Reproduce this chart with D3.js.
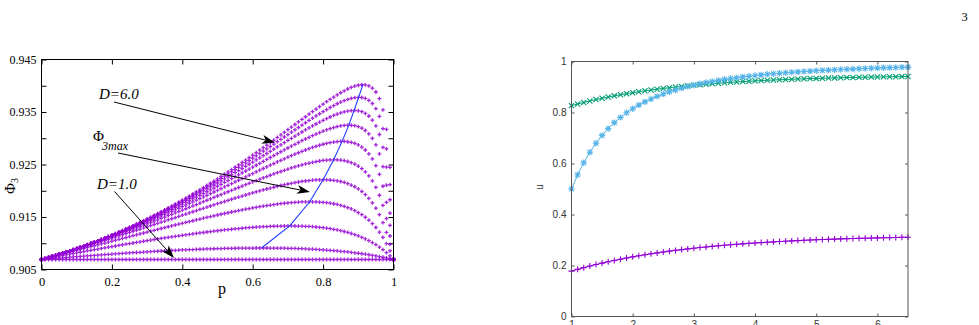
<!DOCTYPE html>
<html><head><meta charset="utf-8">
<script src="https://cdn.jsdelivr.net/npm/d3@7"></script>
<style>body{margin:0;background:#fff}svg{display:block}</style>
</head><body>
<svg id="c" width="979" height="325"></svg>
<script>
// ---------- Left chart data: Phi_3 vs p for D = 1.0 ... 6.0 (step 0.5) ----------
const pValues = [0,0.01,0.02,0.03,0.04,0.05,0.06,0.07,0.08,0.09,0.1,0.11,0.12,0.13,0.14,0.15,0.16,0.17,0.18,0.19,0.2,0.21,0.22,0.23,0.24,0.25,0.26,0.27,0.28,0.29,0.3,0.31,0.32,0.33,0.34,0.35,0.36,0.37,0.38,0.39,0.4,0.41,0.42,0.43,0.44,0.45,0.46,0.47,0.48,0.49,0.5,0.51,0.52,0.53,0.54,0.55,0.56,0.57,0.58,0.59,0.6,0.61,0.62,0.63,0.64,0.65,0.66,0.67,0.68,0.69,0.7,0.71,0.72,0.73,0.74,0.75,0.76,0.77,0.78,0.79,0.8,0.81,0.82,0.83,0.84,0.85,0.86,0.87,0.88,0.89,0.9,0.91,0.92,0.93,0.94,0.95,0.96,0.97,0.98,0.99,1];
const phiD10 = [0.9069,0.9069,0.9069,0.9069,0.9069,0.9069,0.9069,0.9069,0.9069,0.9069,0.9069,0.9069,0.9069,0.9069,0.9069,0.9069,0.9069,0.9069,0.9069,0.9069,0.9069,0.9069,0.9069,0.9069,0.9069,0.9069,0.9069,0.9069,0.9069,0.9069,0.9069,0.9069,0.9069,0.9069,0.9069,0.9069,0.9069,0.9069,0.9069,0.9069,0.9069,0.9069,0.9069,0.9069,0.9069,0.9069,0.9069,0.9069,0.9069,0.9069,0.9069,0.9069,0.9069,0.9069,0.9069,0.9069,0.9069,0.9069,0.9069,0.9069,0.9069,0.9069,0.9069,0.9069,0.9069,0.9069,0.9069,0.9069,0.9069,0.9069,0.9069,0.9069,0.9069,0.9069,0.9069,0.9069,0.9069,0.9069,0.9069,0.9069,0.9069,0.9069,0.9069,0.9069,0.9069,0.9069,0.9069,0.9069,0.9069,0.9069,0.9069,0.9069,0.9069,0.9069,0.9069,0.9069,0.9069,0.9069,0.9069,0.9069,0.9069];
const phiD15 = [0.90690,0.90696,0.90701,0.90707,0.90712,0.90718,0.90723,0.90728,0.90734,0.90739,0.90744,0.90749,0.90754,0.90760,0.90765,0.90769,0.90774,0.90779,0.90784,0.90789,0.90793,0.90798,0.90803,0.90807,0.90811,0.90816,0.90820,0.90824,0.90828,0.90832,0.90836,0.90840,0.90844,0.90848,0.90852,0.90855,0.90859,0.90862,0.90865,0.90869,0.90872,0.90875,0.90878,0.90880,0.90883,0.90886,0.90888,0.90891,0.90893,0.90895,0.90897,0.90899,0.90901,0.90902,0.90904,0.90905,0.90906,0.90907,0.90908,0.90909,0.90909,0.90910,0.90910,0.90910,0.90910,0.90909,0.90909,0.90908,0.90907,0.90906,0.90904,0.90903,0.90901,0.90898,0.90896,0.90893,0.90890,0.90887,0.90883,0.90879,0.90875,0.90870,0.90865,0.90860,0.90854,0.90847,0.90841,0.90834,0.90826,0.90818,0.90810,0.90800,0.90791,0.90781,0.90770,0.90758,0.90746,0.90733,0.90720,0.90705,0.90690];
const phiD20 = [0.90690,0.90703,0.90716,0.90728,0.90741,0.90754,0.90766,0.90779,0.90792,0.90804,0.90816,0.90829,0.90841,0.90853,0.90865,0.90877,0.90889,0.90901,0.90913,0.90925,0.90937,0.90948,0.90960,0.90971,0.90983,0.90994,0.91005,0.91016,0.91028,0.91038,0.91049,0.91060,0.91071,0.91081,0.91092,0.91102,0.91112,0.91122,0.91132,0.91142,0.91151,0.91161,0.91170,0.91179,0.91188,0.91197,0.91205,0.91214,0.91222,0.91230,0.91238,0.91245,0.91253,0.91260,0.91267,0.91273,0.91280,0.91286,0.91291,0.91297,0.91302,0.91307,0.91311,0.91315,0.91318,0.91322,0.91324,0.91326,0.91328,0.91329,0.91330,0.91330,0.91329,0.91328,0.91326,0.91323,0.91320,0.91315,0.91310,0.91303,0.91296,0.91287,0.91277,0.91266,0.91254,0.91239,0.91224,0.91206,0.91186,0.91164,0.91140,0.91113,0.91083,0.91050,0.91013,0.90973,0.90928,0.90877,0.90822,0.90760,0.90690];
const phiD25 = [0.90690,0.90707,0.90725,0.90742,0.90760,0.90777,0.90794,0.90812,0.90829,0.90847,0.90864,0.90882,0.90899,0.90917,0.90934,0.90952,0.90969,0.90987,0.91004,0.91022,0.91039,0.91057,0.91074,0.91091,0.91109,0.91126,0.91144,0.91161,0.91178,0.91195,0.91212,0.91230,0.91247,0.91264,0.91281,0.91297,0.91314,0.91331,0.91348,0.91364,0.91380,0.91397,0.91413,0.91429,0.91445,0.91461,0.91477,0.91492,0.91507,0.91523,0.91538,0.91552,0.91567,0.91581,0.91595,0.91609,0.91623,0.91636,0.91649,0.91661,0.91673,0.91685,0.91697,0.91708,0.91718,0.91728,0.91737,0.91746,0.91754,0.91762,0.91769,0.91775,0.91780,0.91784,0.91787,0.91789,0.91790,0.91790,0.91788,0.91784,0.91779,0.91772,0.91764,0.91752,0.91739,0.91722,0.91703,0.91680,0.91653,0.91622,0.91585,0.91544,0.91495,0.91439,0.91375,0.91300,0.91213,0.91112,0.90994,0.90855,0.90690];
const phiD30 = [0.90690,0.90709,0.90729,0.90748,0.90768,0.90788,0.90808,0.90828,0.90848,0.90868,0.90888,0.90909,0.90929,0.90950,0.90971,0.90991,0.91012,0.91033,0.91054,0.91075,0.91097,0.91118,0.91140,0.91161,0.91183,0.91204,0.91226,0.91248,0.91269,0.91291,0.91313,0.91335,0.91357,0.91379,0.91401,0.91423,0.91445,0.91467,0.91490,0.91512,0.91534,0.91556,0.91578,0.91600,0.91622,0.91644,0.91666,0.91688,0.91710,0.91731,0.91753,0.91774,0.91795,0.91817,0.91838,0.91858,0.91879,0.91899,0.91919,0.91939,0.91959,0.91978,0.91997,0.92015,0.92033,0.92050,0.92067,0.92084,0.92100,0.92115,0.92129,0.92142,0.92155,0.92167,0.92177,0.92186,0.92194,0.92201,0.92206,0.92209,0.92210,0.92209,0.92205,0.92199,0.92189,0.92176,0.92158,0.92136,0.92109,0.92076,0.92035,0.91986,0.91926,0.91856,0.91770,0.91668,0.91544,0.91393,0.91208,0.90979,0.90690];
const phiD35 = [0.90690,0.90710,0.90730,0.90750,0.90770,0.90791,0.90812,0.90833,0.90854,0.90875,0.90897,0.90919,0.90941,0.90963,0.90986,0.91008,0.91031,0.91054,0.91077,0.91101,0.91124,0.91148,0.91172,0.91196,0.91221,0.91245,0.91270,0.91294,0.91319,0.91345,0.91370,0.91395,0.91421,0.91447,0.91472,0.91499,0.91525,0.91551,0.91577,0.91604,0.91630,0.91657,0.91684,0.91711,0.91737,0.91764,0.91791,0.91819,0.91846,0.91873,0.91900,0.91927,0.91954,0.91981,0.92008,0.92035,0.92062,0.92089,0.92115,0.92142,0.92168,0.92194,0.92220,0.92245,0.92270,0.92295,0.92320,0.92344,0.92367,0.92390,0.92412,0.92434,0.92454,0.92474,0.92493,0.92511,0.92527,0.92542,0.92555,0.92567,0.92577,0.92584,0.92588,0.92590,0.92588,0.92583,0.92572,0.92557,0.92535,0.92506,0.92468,0.92420,0.92359,0.92282,0.92187,0.92066,0.91914,0.91720,0.91469,0.91138,0.90690];
const phiD40 = [0.90690,0.90710,0.90730,0.90750,0.90771,0.90791,0.90813,0.90834,0.90856,0.90878,0.90900,0.90923,0.90946,0.90969,0.90993,0.91016,0.91041,0.91065,0.91090,0.91114,0.91140,0.91165,0.91191,0.91217,0.91243,0.91270,0.91297,0.91324,0.91351,0.91378,0.91406,0.91434,0.91463,0.91491,0.91520,0.91549,0.91578,0.91608,0.91637,0.91667,0.91697,0.91728,0.91758,0.91789,0.91820,0.91851,0.91882,0.91913,0.91945,0.91976,0.92008,0.92040,0.92072,0.92104,0.92136,0.92168,0.92200,0.92232,0.92264,0.92296,0.92328,0.92361,0.92392,0.92424,0.92456,0.92487,0.92518,0.92549,0.92579,0.92609,0.92639,0.92668,0.92696,0.92724,0.92751,0.92776,0.92801,0.92825,0.92847,0.92867,0.92886,0.92902,0.92917,0.92928,0.92936,0.92940,0.92939,0.92933,0.92921,0.92901,0.92872,0.92831,0.92776,0.92703,0.92606,0.92480,0.92312,0.92086,0.91777,0.91339,0.90690];
const phiD45 = [0.90690,0.90709,0.90729,0.90749,0.90770,0.90791,0.90812,0.90834,0.90856,0.90878,0.90901,0.90924,0.90947,0.90971,0.90995,0.91020,0.91045,0.91070,0.91096,0.91122,0.91148,0.91175,0.91202,0.91229,0.91257,0.91285,0.91313,0.91342,0.91371,0.91400,0.91430,0.91460,0.91490,0.91521,0.91552,0.91583,0.91615,0.91646,0.91679,0.91711,0.91744,0.91777,0.91810,0.91844,0.91878,0.91912,0.91946,0.91981,0.92016,0.92051,0.92086,0.92122,0.92158,0.92194,0.92230,0.92266,0.92302,0.92339,0.92376,0.92412,0.92449,0.92486,0.92523,0.92560,0.92596,0.92633,0.92670,0.92706,0.92743,0.92779,0.92814,0.92850,0.92885,0.92919,0.92953,0.92986,0.93018,0.93049,0.93079,0.93108,0.93135,0.93160,0.93183,0.93204,0.93221,0.93235,0.93245,0.93250,0.93248,0.93240,0.93221,0.93192,0.93148,0.93084,0.92996,0.92873,0.92702,0.92461,0.92109,0.91573,0.90690];
const phiD50 = [0.90690,0.90709,0.90729,0.90748,0.90769,0.90790,0.90811,0.90832,0.90855,0.90877,0.90900,0.90923,0.90947,0.90971,0.90996,0.91021,0.91046,0.91072,0.91099,0.91125,0.91152,0.91180,0.91208,0.91236,0.91265,0.91294,0.91324,0.91354,0.91384,0.91415,0.91446,0.91478,0.91510,0.91542,0.91575,0.91608,0.91641,0.91675,0.91710,0.91744,0.91779,0.91815,0.91850,0.91886,0.91923,0.91959,0.91997,0.92034,0.92072,0.92110,0.92148,0.92187,0.92226,0.92265,0.92304,0.92344,0.92384,0.92424,0.92464,0.92505,0.92546,0.92587,0.92628,0.92669,0.92710,0.92751,0.92793,0.92834,0.92875,0.92916,0.92958,0.92998,0.93039,0.93079,0.93119,0.93158,0.93196,0.93234,0.93271,0.93307,0.93341,0.93374,0.93405,0.93434,0.93461,0.93484,0.93503,0.93518,0.93527,0.93530,0.93523,0.93506,0.93474,0.93424,0.93347,0.93235,0.93071,0.92826,0.92449,0.91829,0.90690];
const phiD55 = [0.90690,0.90709,0.90728,0.90748,0.90768,0.90788,0.90809,0.90831,0.90853,0.90876,0.90898,0.90922,0.90946,0.90970,0.90995,0.91021,0.91046,0.91073,0.91100,0.91127,0.91154,0.91183,0.91211,0.91241,0.91270,0.91300,0.91331,0.91362,0.91393,0.91425,0.91457,0.91490,0.91523,0.91557,0.91591,0.91625,0.91660,0.91696,0.91732,0.91768,0.91805,0.91842,0.91879,0.91917,0.91956,0.91994,0.92034,0.92073,0.92113,0.92153,0.92194,0.92235,0.92277,0.92318,0.92361,0.92403,0.92446,0.92489,0.92532,0.92576,0.92620,0.92664,0.92709,0.92753,0.92798,0.92843,0.92888,0.92934,0.92979,0.93024,0.93070,0.93115,0.93160,0.93205,0.93250,0.93295,0.93339,0.93382,0.93425,0.93467,0.93508,0.93547,0.93586,0.93622,0.93657,0.93688,0.93717,0.93741,0.93761,0.93774,0.93780,0.93776,0.93758,0.93722,0.93662,0.93566,0.93417,0.93183,0.92798,0.92115,0.90690];
const phiD60 = [0.90690,0.90708,0.90727,0.90746,0.90766,0.90786,0.90807,0.90828,0.90850,0.90872,0.90895,0.90918,0.90942,0.90967,0.90991,0.91017,0.91043,0.91070,0.91096,0.91124,0.91152,0.91181,0.91210,0.91239,0.91270,0.91300,0.91331,0.91363,0.91395,0.91428,0.91461,0.91495,0.91529,0.91564,0.91599,0.91635,0.91671,0.91707,0.91745,0.91782,0.91820,0.91859,0.91898,0.91938,0.91978,0.92018,0.92059,0.92101,0.92143,0.92185,0.92228,0.92271,0.92315,0.92359,0.92403,0.92448,0.92494,0.92539,0.92585,0.92632,0.92679,0.92726,0.92773,0.92821,0.92869,0.92918,0.92966,0.93015,0.93064,0.93113,0.93163,0.93212,0.93262,0.93311,0.93361,0.93410,0.93459,0.93508,0.93556,0.93604,0.93651,0.93697,0.93742,0.93785,0.93827,0.93867,0.93904,0.93938,0.93968,0.93993,0.94010,0.94019,0.94017,0.93998,0.93956,0.93881,0.93754,0.93541,0.93168,0.92445,0.90690];
// locus of the maxima (Phi_3max)
const locusP   = [0.625,0.705,0.762,0.800,0.830,0.854,0.873,0.888,0.901,0.913];
const locusPhi = [0.9091,0.9133,0.9179,0.9221,0.9259,0.9294,0.9325,0.9353,0.9378,0.9402];
const xTicksL = [0,0.2,0.4,0.6,0.8,1];
const yTicksL = [0.905,0.91,0.915,0.92,0.925,0.93,0.935,0.94,0.945];
const yLabelsL = [0.905,0.915,0.925,0.935,0.945];

// ---------- Right chart data: u vs x ----------
const uX = [1,1.1,1.2,1.3,1.4,1.5,1.6,1.7,1.8,1.9,2,2.1,2.2,2.3,2.4,2.5,2.6,2.7,2.8,2.9,3,3.1,3.2,3.3,3.4,3.5,3.6,3.7,3.8,3.9,4,4.1,4.2,4.3,4.4,4.5,4.6,4.7,4.8,4.9,5,5.1,5.2,5.3,5.4,5.5,5.6,5.7,5.8,5.9,6,6.1,6.2,6.3,6.4,6.5];
const uPurple = [0.1780,0.1849,0.1915,0.1978,0.2037,0.2094,0.2148,0.2199,0.2248,0.2295,0.2339,0.2381,0.2421,0.2459,0.2495,0.2529,0.2562,0.2593,0.2623,0.2651,0.2678,0.2703,0.2727,0.2750,0.2772,0.2793,0.2813,0.2832,0.2850,0.2867,0.2883,0.2899,0.2913,0.2927,0.2941,0.2953,0.2965,0.2977,0.2988,0.2998,0.3008,0.3017,0.3026,0.3035,0.3043,0.3050,0.3058,0.3065,0.3071,0.3077,0.3083,0.3089,0.3095,0.3100,0.3105,0.3109];
const uGreen = [0.8270,0.8334,0.8395,0.8453,0.8507,0.8559,0.8607,0.8653,0.8697,0.8739,0.8778,0.8815,0.8850,0.8883,0.8914,0.8944,0.8972,0.8999,0.9024,0.9048,0.9071,0.9092,0.9112,0.9131,0.9149,0.9167,0.9183,0.9198,0.9213,0.9227,0.9240,0.9252,0.9264,0.9275,0.9285,0.9295,0.9304,0.9313,0.9322,0.9330,0.9337,0.9344,0.9351,0.9357,0.9363,0.9369,0.9374,0.9380,0.9384,0.9389,0.9393,0.9397,0.9401,0.9405,0.9408,0.9412];
const uBlue = [0.5000,0.5556,0.6032,0.6441,0.6795,0.7101,0.7368,0.7602,0.7807,0.7988,0.8148,0.8291,0.8418,0.8532,0.8634,0.8726,0.8810,0.8885,0.8954,0.9017,0.9074,0.9127,0.9175,0.9219,0.9260,0.9298,0.9333,0.9366,0.9396,0.9424,0.9451,0.9475,0.9498,0.9519,0.9540,0.9558,0.9576,0.9593,0.9609,0.9624,0.9638,0.9651,0.9664,0.9675,0.9687,0.9697,0.9708,0.9717,0.9726,0.9735,0.9744,0.9752,0.9759,0.9766,0.9773,0.9780];
const xTicksR = [1,2,3,4,5,6];
const yTicksR = [0,0.2,0.4,0.6,0.8,1];

const phiSeries = [phiD10,phiD15,phiD20,phiD25,phiD30,phiD35,phiD40,phiD45,phiD50,phiD55,phiD60];

const svg = d3.select("#c");
const SERIF = "'Liberation Serif','DejaVu Serif',serif";
const SANS = "'Liberation Sans',Arial,sans-serif";

// page number
svg.append("text").attr("x",961.5).attr("y",20.5).attr("font-family",SERIF).attr("font-size",12.5).text("3");

// ================= LEFT CHART =================
const xL = d3.scaleLinear().domain([0,1]).range([41.5,393.5]);
const yL = d3.scaleLinear().domain([0.905,0.945]).range([269.5,59.5]);
const gL = svg.append("g");

function styleAxis(g, font, size, color){
  g.attr("font-family",null).attr("font-size",null);
  g.select(".domain").remove();
  g.selectAll("text").attr("font-family",font).attr("font-size",size).attr("fill",color);
  g.selectAll("line").attr("stroke",color);
}
const fmtL = d => d3.format("~g")(d);
gL.append("g").attr("transform",`translate(0,${yL(0.905)})`)
  .call(d3.axisBottom(xL).tickValues(xTicksL).tickSize(-5).tickPadding(8).tickFormat(fmtL))
  .call(g=>styleAxis(g,SERIF,12.5,"#000"));
gL.append("g").attr("transform",`translate(0,${yL(0.945)})`)
  .call(d3.axisTop(xL).tickValues(xTicksL).tickSize(-5).tickFormat(""))
  .call(g=>styleAxis(g,SERIF,12,"#000"));
gL.append("g").attr("transform",`translate(${xL(0)},0)`)
  .call(d3.axisLeft(yL).tickValues(yTicksL).tickSize(-5).tickPadding(5)
    .tickFormat(d => yLabelsL.some(v=>Math.abs(v-d)<1e-9) ? d3.format(".3f")(d) : ""))
  .call(g=>styleAxis(g,SERIF,12,"#000"));
gL.append("g").attr("transform",`translate(${xL(1)},0)`)
  .call(d3.axisRight(yL).tickValues(yTicksL).tickSize(-5).tickFormat(""))
  .call(g=>styleAxis(g,SERIF,12,"#000"));

// data markers (+)
const plusPath = s => `M${-s},0H${s}M0,${-s}V${s}`;
const crossPath = s => `M${-s},${-s}L${s},${s}M${-s},${s}L${s},${-s}`;
const starPath = s => plusPath(s) + crossPath(s*0.75);

const gPts = gL.append("g");
phiSeries.forEach(series => {
  gPts.append("g").selectAll("path").data(series).join("path")
    .attr("transform",(d,i)=>`translate(${xL(pValues[i])},${yL(d)})`)
    .attr("d",plusPath(1.9))
    .attr("stroke","#9400d3").attr("stroke-width",1.3).attr("fill","none")
    .attr("stroke-opacity",0.85);
});

// locus of maxima
gL.append("path")
  .attr("d", d3.line().x((d,i)=>xL(locusP[i])).y(d=>yL(d))(locusPhi))
  .attr("fill","none").attr("stroke","#1f3cff").attr("stroke-width",1.1);

// frame
gL.append("rect").attr("x",xL(0)).attr("y",yL(0.945))
  .attr("width",xL(1)-xL(0)).attr("height",yL(0.905)-yL(0.945))
  .attr("fill","none").attr("stroke","#000").attr("stroke-width",1);

// axis labels
gL.append("text").attr("x",222).attr("y",293.5).attr("text-anchor","middle")
  .attr("font-family",SERIF).attr("font-size",16).text("p");
const yLab = gL.append("text").attr("transform","translate(14.5,186) rotate(-90)")
  .attr("text-anchor","middle").attr("font-family",SERIF).attr("font-size",15);
yLab.append("tspan").text("Φ");
yLab.append("tspan").attr("font-size",10).attr("dy",3).text("3");

// annotations
function arrow(g,x1,y1,x2,y2){
  const a = Math.atan2(y2-y1,x2-x1), L=13, W=4.5, N=9.5;
  const c=Math.cos(a), s=Math.sin(a);
  g.append("line").attr("x1",x1).attr("y1",y1).attr("x2",x2-N*c).attr("y2",y2-N*s)
    .attr("stroke","#000").attr("stroke-width",1);
  const pts=[[x2,y2],[x2-L*c-W*s,y2-L*s+W*c],[x2-N*c,y2-N*s],[x2-L*c+W*s,y2-L*s-W*c]];
  g.append("path").attr("d","M"+pts.map(p=>p.join(",")).join("L")+"Z").attr("fill","#000");
}
const gA = gL.append("g");
gA.append("text").attr("x",99).attr("y",98.5).attr("font-family",SERIF).attr("font-style","italic").attr("font-size",15).text("D=6.0");
arrow(gA,114,102,275,142.5);
const t2 = gA.append("text").attr("x",93).attr("y",141).attr("font-family",SERIF).attr("font-size",15);
t2.append("tspan").text("Φ");
t2.append("tspan").attr("x",102).attr("y",150).attr("font-size",12).attr("font-style","italic").text("3max");
arrow(gA,118,153,310,192);
gA.append("text").attr("x",97).attr("y",189).attr("font-family",SERIF).attr("font-style","italic").attr("font-size",15).text("D=1.0");
arrow(gA,114.5,191.5,174,258);

// ================= RIGHT CHART =================
const xR = d3.scaleLinear().domain([1,6.5]).range([571.5,908]);
const yR = d3.scaleLinear().domain([0,1]).range([316.5,61.5]);
const gR = svg.append("g");
const axisCol = "#555", labCol = "#333";
gR.append("g").attr("transform",`translate(0,${yR(0)})`)
  .call(d3.axisBottom(xR).tickValues(xTicksR).tickSize(-3).tickPadding(4.5).tickFormat(d3.format("d")))
  .call(g=>styleAxis(g,SANS,10,labCol)).call(g=>g.selectAll("line").attr("stroke",axisCol));
gR.append("g").attr("transform",`translate(0,${yR(1)})`)
  .call(d3.axisTop(xR).tickValues(xTicksR).tickSize(-3).tickFormat(""))
  .call(g=>styleAxis(g,SANS,10,axisCol));
gR.append("g").attr("transform",`translate(${xR(1)},0)`)
  .call(d3.axisLeft(yR).tickValues(yTicksR).tickSize(-3).tickPadding(5).tickFormat(d3.format("~g")))
  .call(g=>styleAxis(g,SANS,10,labCol)).call(g=>g.selectAll("line").attr("stroke",axisCol));
gR.append("g").attr("transform",`translate(${xR(6.5)},0)`)
  .call(d3.axisRight(yR).tickValues(yTicksR).tickSize(-3).tickFormat(""))
  .call(g=>styleAxis(g,SANS,10,axisCol));

const rSeries = [
  {vals:uPurple, color:"#9400d3", shape:plusPath(3)},
  {vals:uGreen,  color:"#009e73", shape:crossPath(2.6)},
  {vals:uBlue,   color:"#56b4e9", shape:starPath(3.2)}
];
rSeries.forEach(s=>{
  gR.append("path").attr("d", d3.line().x((d,i)=>xR(uX[i])).y(d=>yR(d))(s.vals))
    .attr("fill","none").attr("stroke",s.color).attr("stroke-width",1);
  gR.append("g").selectAll("path").data(s.vals).join("path")
    .attr("transform",(d,i)=>`translate(${xR(uX[i])},${yR(d)})`)
    .attr("d",s.shape).attr("stroke",s.color).attr("stroke-width",1.1).attr("fill","none");
});

gR.append("rect").attr("x",xR(1)).attr("y",yR(1)).attr("width",xR(6.5)-xR(1)).attr("height",yR(0)-yR(1))
  .attr("fill","none").attr("stroke",axisCol).attr("stroke-width",1);
gR.append("text").attr("transform","translate(543,187) rotate(-90)").attr("text-anchor","middle")
  .attr("font-family",SANS).attr("font-size",10).attr("fill",labCol).text("u");
</script>
</body></html>
